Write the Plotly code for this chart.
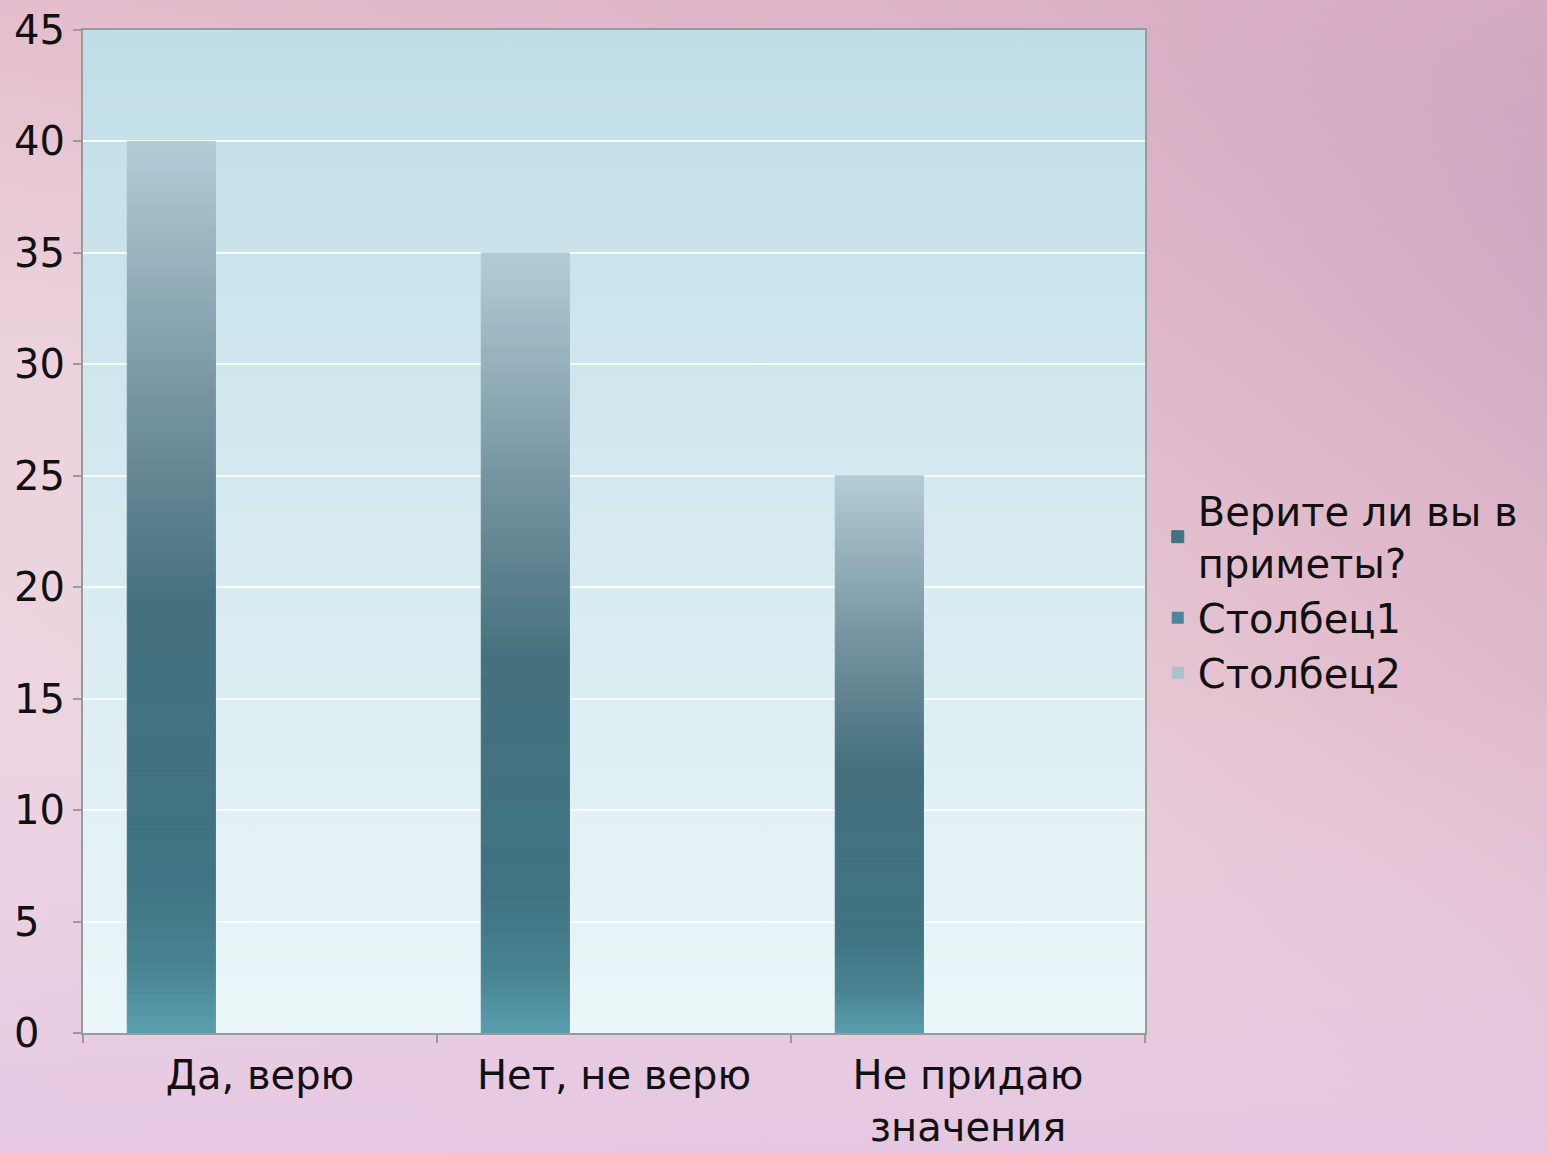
import base64
import plotly.graph_objects as go

# ---- data ----
categories = ["Да, верю", "Нет, не верю", "Не придаю<br>значения"]
series_names = ["Верите ли вы в<br>приметы?", "Столбец1", "Столбец2"]
values_main = [40, 35, 25]
values_col1 = [0, 0, 0]
values_col2 = [0, 0, 0]
y_tickvals = [0, 5, 10, 15, 20, 25, 30, 35, 40, 45]

FONT = "DejaVu Sans, Arial, sans-serif"

# gradient stops along bar height (fraction from bottom, rgb)
stops = [
    (0.00, (90, 158, 174)),
    (0.08, (72, 130, 144)),
    (0.18, (63, 116, 130)),
    (0.48, (70, 112, 126)),
    (0.72, (120, 150, 162)),
    (1.00, (180, 204, 214)),
]


def grad_color(f):
    for (f0, c0), (f1, c1) in zip(stops[:-1], stops[1:]):
        if f0 <= f <= f1:
            t = (f - f0) / (f1 - f0) if f1 > f0 else 0
            c = [round(a + (b - a) * t) for a, b in zip(c0, c1)]
            return "rgb(%d,%d,%d)" % tuple(c)
    return "rgb(%d,%d,%d)" % stops[-1][1]


N = 160
order = list(range(N // 3, N)) + list(range(0, N // 3))  # dark segment first (legend swatch)
xs, ys, bases, cols = [], [], [], []
for cat, v in zip(categories, values_main):
    for k in order:
        xs.append(cat)
        ys.append(v / N)
        bases.append(k * v / N)
        cols.append(grad_color((k + 0.5) / N))

BW = 0.249
fig = go.Figure()
fig.add_trace(go.Bar(
    x=xs, y=ys, base=bases, name=series_names[0],
    width=BW, offset=-0.375,
    marker=dict(color=cols, line=dict(color=cols, width=1)),
    hoverinfo="skip",
))
fig.add_trace(go.Bar(
    x=categories, y=values_col1, name=series_names[1],
    width=BW, offset=-0.125,
    marker=dict(color="#4b8798", line=dict(width=0)),
))
fig.add_trace(go.Bar(
    x=categories, y=values_col2, name=series_names[2],
    width=BW, offset=0.125,
    marker=dict(color="#a8c2cc", line=dict(width=0)),
))

# backgrounds as SVG gradients
page_svg = """<svg xmlns='http://www.w3.org/2000/svg' width='1547' height='1153' viewBox='0 0 1547 1153' preserveAspectRatio='none'>
<defs>
<linearGradient id='g' x1='0' y1='1' x2='1' y2='0'>
<stop offset='0' stop-color='#eedae6'/>
<stop offset='0.45' stop-color='#ebd0da'/>
<stop offset='0.75' stop-color='#deb6c8'/>
<stop offset='1' stop-color='#c49cbe'/>
</linearGradient>
<linearGradient id='b' x1='0' y1='0' x2='0' y2='1'>
<stop offset='0.6' stop-color='#e6c6e2' stop-opacity='0'/>
<stop offset='1' stop-color='#e4c4e2' stop-opacity='0.8'/>
</linearGradient>
<linearGradient id='t' x1='0' y1='0' x2='0' y2='1'>
<stop offset='0' stop-color='#e0b4c6' stop-opacity='0.6'/>
<stop offset='0.3' stop-color='#e0b4c6' stop-opacity='0'/>
</linearGradient>
</defs>
<rect width='1547' height='1153' fill='url(#g)'/>
<rect width='1547' height='1153' fill='url(#t)'/>
<rect width='1547' height='1153' fill='url(#b)'/>
</svg>"""

plot_svg = """<svg xmlns='http://www.w3.org/2000/svg' width='1000' height='1000' viewBox='0 0 1000 1000' preserveAspectRatio='none'>
<defs>
<linearGradient id='p' x1='0' y1='0' x2='0' y2='1'>
<stop offset='0' stop-color='#c1dee8'/>
<stop offset='0.5' stop-color='#d6eaf0'/>
<stop offset='1' stop-color='#ebf6f8'/>
</linearGradient>
</defs>
<rect width='1000' height='1000' fill='url(#p)'/>
</svg>"""


def uri(svg):
    return "data:image/svg+xml;base64," + base64.b64encode(svg.encode()).decode()


L, R, T, B = 83, 402, 30, 120
W, H = 1547, 1153
pw, ph = W - L - R, H - T - B

fig.update_layout(
    width=W, height=H, autosize=False,
    margin=dict(l=L, r=R, t=T, b=B, pad=0, autoexpand=False),
    paper_bgcolor="#ead2de",
    plot_bgcolor="rgba(0,0,0,0)",
    barmode="group",
    font=dict(family=FONT, size=40, color="#111111"),
    showlegend=True,
    legend=dict(
        x=1.012, xanchor="left", y=0.44, yanchor="middle",
        bgcolor="rgba(0,0,0,0)", font=dict(size=40, family=FONT, color="#111111"),
        tracegroupgap=0, itemwidth=30, valign="middle",
    ),
    images=[
        dict(source=uri(page_svg), xref="paper", yref="paper",
             x=-L / pw, y=1 + T / ph, sizex=W / pw, sizey=H / ph,
             sizing="stretch", layer="below", xanchor="left", yanchor="top"),
        dict(source=uri(plot_svg), xref="paper", yref="paper",
             x=0, y=1, sizex=1, sizey=1,
             sizing="stretch", layer="below", xanchor="left", yanchor="top"),
    ],
)

fig.update_xaxes(
    categoryorder="array", categoryarray=categories,
    showline=True, linecolor="#9a9a9a", linewidth=2, mirror=True,
    ticks="outside", ticklen=8, tickcolor="#9a9a9a", tickwidth=1.5,
    tickson="boundaries", showgrid=False, ticklabelstandoff=6, automargin=False,
    tickfont=dict(size=40, family=FONT, color="#111111"),
)
fig.update_yaxes(
    range=[0, 45], tickvals=y_tickvals,
    ticktext=[("%d" % v) + ("\u2007" if v < 10 else "") for v in y_tickvals],
    showline=True, linecolor="#9a9a9a", linewidth=2, mirror=True,
    ticks="outside", ticklen=8, tickcolor="#9a9a9a", tickwidth=1.5,
    showgrid=True, gridcolor="rgba(255,255,255,0.85)", gridwidth=2,
    zeroline=False, automargin=False,
    tickfont=dict(size=40, family=FONT, color="#111111"),
)

fig.write_html(
    "out.html",
    config={"displayModeBar": False},
    post_script="document.body.style.margin='0';document.body.style.overflow='hidden';",
)
